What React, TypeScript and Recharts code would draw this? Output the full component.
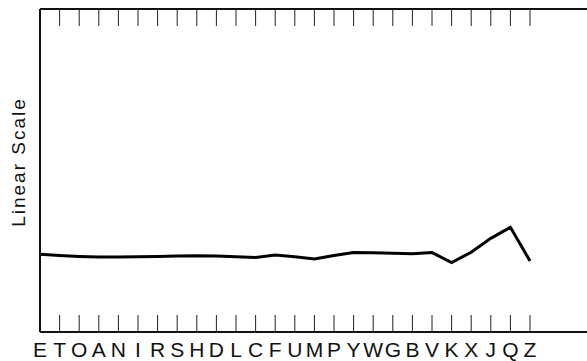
import { Line, LineChart, XAxis, YAxis } from 'recharts'

const letters = ['E', 'T', 'O', 'A', 'N', 'I', 'R', 'S', 'H', 'D', 'L', 'C', 'F', 'U', 'M', 'P', 'Y', 'W', 'G', 'B', 'V', 'K', 'X', 'J', 'Q', 'Z']
const values = [24.1, 23.7, 23.4, 23.2, 23.2, 23.3, 23.4, 23.5, 23.6, 23.5, 23.3, 23.1, 23.8, 23.3, 22.6, 23.7, 24.6, 24.5, 24.4, 24.2, 24.6, 21.5, 24.7, 29.0, 32.4, 22.0]
const yDomain = [0, 100]
const axisLabel = 'Linear Scale'

const data = letters.map((name, i) => ({ name, value: values[i] }))

const BottomTick = (props: any) => {
   const { x, y, payload, index } = props
   return (
      <g>
         {index > 0 && <line x1={x} x2={x} y1={y - 17} y2={y} stroke="#222" strokeWidth={1} />}
         <text x={x} y={y + 17} textAnchor="middle" dominantBaseline="central" fontSize={21} fontFamily="Liberation Sans, Arial, sans-serif" fill="#111">
            {payload.value}
         </text>
      </g>
   )
}

const TopTick = (props: any) => {
   const { x, y, index } = props
   if (index === 0) return <g />
   return <line x1={x} x2={x} y1={y} y2={y + 17} stroke="#222" strokeWidth={1} />
}

export default function App() {
   return (
      <div style={{ position: 'absolute', left: 0, top: 0, background: '#fff' }}>
         <LineChart width={587} height={361} data={data} margin={{ top: 8, right: 0, bottom: 0, left: 0 }}>
            <XAxis
               dataKey="name"
               height={29}
               padding={{ left: 0, right: 57 }}
               interval={0}
               tickSize={0}
               tickMargin={0}
               tickLine={false}
               axisLine={{ stroke: '#111', strokeWidth: 2 }}
               tick={<BottomTick />}
            />
            <XAxis
               xAxisId="top"
               orientation="top"
               dataKey="name"
               height={1}
               padding={{ left: 0, right: 57 }}
               interval={0}
               tickSize={0}
               tickMargin={0}
               tickLine={false}
               axisLine={{ stroke: '#111', strokeWidth: 2 }}
               tick={<TopTick />}
            />
            <YAxis
               width={40}
               domain={yDomain}
               tick={false}
               tickLine={false}
               axisLine={{ stroke: '#111', strokeWidth: 2 }}
               label={{
                  content: () => (
                     <text
                        x={18}
                        y={162}
                        transform="rotate(-90, 18, 162)"
                        textAnchor="middle"
                        dominantBaseline="central"
                        fontSize={19}
                        letterSpacing={2}
                        fontFamily="Liberation Sans, Arial, sans-serif"
                        fill="#111"
                     >
                        {axisLabel}
                     </text>
                  ),
               }}
            />
            <Line type="linear" dataKey="value" stroke="#000" strokeWidth={3} dot={false} isAnimationActive={false} />
         </LineChart>
      </div>
   )
}
